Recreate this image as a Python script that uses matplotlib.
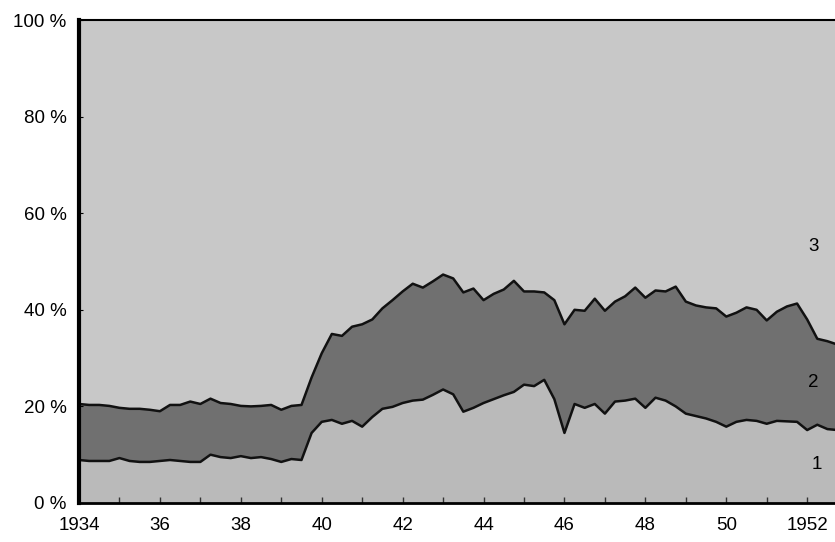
import numpy as np
import matplotlib.pyplot as plt

# quarter-year sample points, 1934 .. 1952.75
years = [1934 + 0.25 * i for i in range(76)]

# top of layer 1 (percent)
share_1 = [8.9, 8.7, 8.7, 8.7, 9.3, 8.7, 8.5, 8.5, 8.7, 8.9, 8.7, 8.5, 8.5, 10.0, 9.5, 9.3,
           9.7, 9.3, 9.5, 9.1, 8.5, 9.1, 8.9, 14.5, 16.8, 17.2, 16.4, 17.0, 15.8, 17.8, 19.5, 19.9,
           20.7, 21.2, 21.4, 22.4, 23.5, 22.5, 18.9, 19.7, 20.7, 21.5, 22.3, 23.0, 24.5, 24.2, 25.5, 21.5,
           14.5, 20.5, 19.7, 20.5, 18.5, 21.0, 21.2, 21.6, 19.7, 21.8, 21.2, 20.0, 18.5, 18.0, 17.5, 16.8,
           15.8, 16.8, 17.2, 17.0, 16.4, 17.0, 16.9, 16.8, 15.1, 16.2, 15.3, 15.1]

# top of layers 1 + 2 (percent)
share_12 = [20.5, 20.3, 20.3, 20.1, 19.7, 19.5, 19.5, 19.3, 19.0, 20.3, 20.3, 21.0, 20.5, 21.6, 20.7, 20.5,
            20.1, 20.0, 20.1, 20.3, 19.3, 20.1, 20.3, 26.0, 31.0, 35.0, 34.6, 36.5, 37.0, 38.0, 40.3, 42.0,
            43.8, 45.4, 44.6, 45.9, 47.3, 46.5, 43.6, 44.4, 42.0, 43.3, 44.2, 46.0, 43.8, 43.8, 43.6, 42.0,
            37.0, 40.0, 39.8, 42.3, 39.8, 41.7, 42.8, 44.6, 42.5, 44.0, 43.8, 44.8, 41.7, 40.9, 40.5, 40.3,
            38.6, 39.4, 40.5, 40.0, 37.8, 39.6, 40.7, 41.3, 38.0, 34.0, 33.5, 32.8]

y_ticks = [0, 20, 40, 60, 80, 100]
y_labels = ['0 %', '20 %', '40 %', '60 %', '80 %', '100 %']
x_ticks = [1934, 1936, 1938, 1940, 1942, 1944, 1946, 1948, 1950, 1952]
x_labels = ['1934', '36', '38', '40', '42', '44', '46', '48', '50', '1952']

s1 = np.array(share_1)
s2 = np.array(share_12) - s1
s3 = 100 - np.array(share_12)

plt.rcParams['font.family'] = ['Liberation Sans', 'DejaVu Sans']

fig = plt.figure(figsize=(8.35, 5.42), dpi=100)
ax = fig.add_axes([0.0946, 0.072, 0.906, 0.891])

ax.stackplot(years, s1, s2, s3, colors=['#bababa', '#707070', '#c8c8c8'], linewidth=0)
ax.plot(years, share_1, color='#111111', lw=1.8)
ax.plot(years, share_12, color='#111111', lw=1.8)

ax.text(1952.25, 7.9, '1', fontsize=13.5, ha='center', va='center')
ax.text(1952.15, 24.9, '2', fontsize=13.5, ha='center', va='center')
ax.text(1952.15, 53.1, '3', fontsize=13.5, ha='center', va='center')

ax.set_xlim(1934, 1952.7)
ax.set_ylim(0, 100)

ax.set_yticks(y_ticks)
ax.set_yticklabels(y_labels, fontsize=13.5)
ax.set_xticks(x_ticks)
ax.set_xticklabels(x_labels, fontsize=13.5)
ax.set_xticks(range(1935, 1953), minor=True)
ax.tick_params(axis='x', which='both', direction='in', length=4, width=1, pad=10, color='#333333')
ax.tick_params(axis='y', direction='in', length=3, pad=9)

ax.spines['left'].set_linewidth(3)
ax.spines['bottom'].set_linewidth(2)
ax.spines['top'].set_linewidth(1.5)
ax.spines['right'].set_visible(False)

fig.savefig('out.png', dpi=100)
